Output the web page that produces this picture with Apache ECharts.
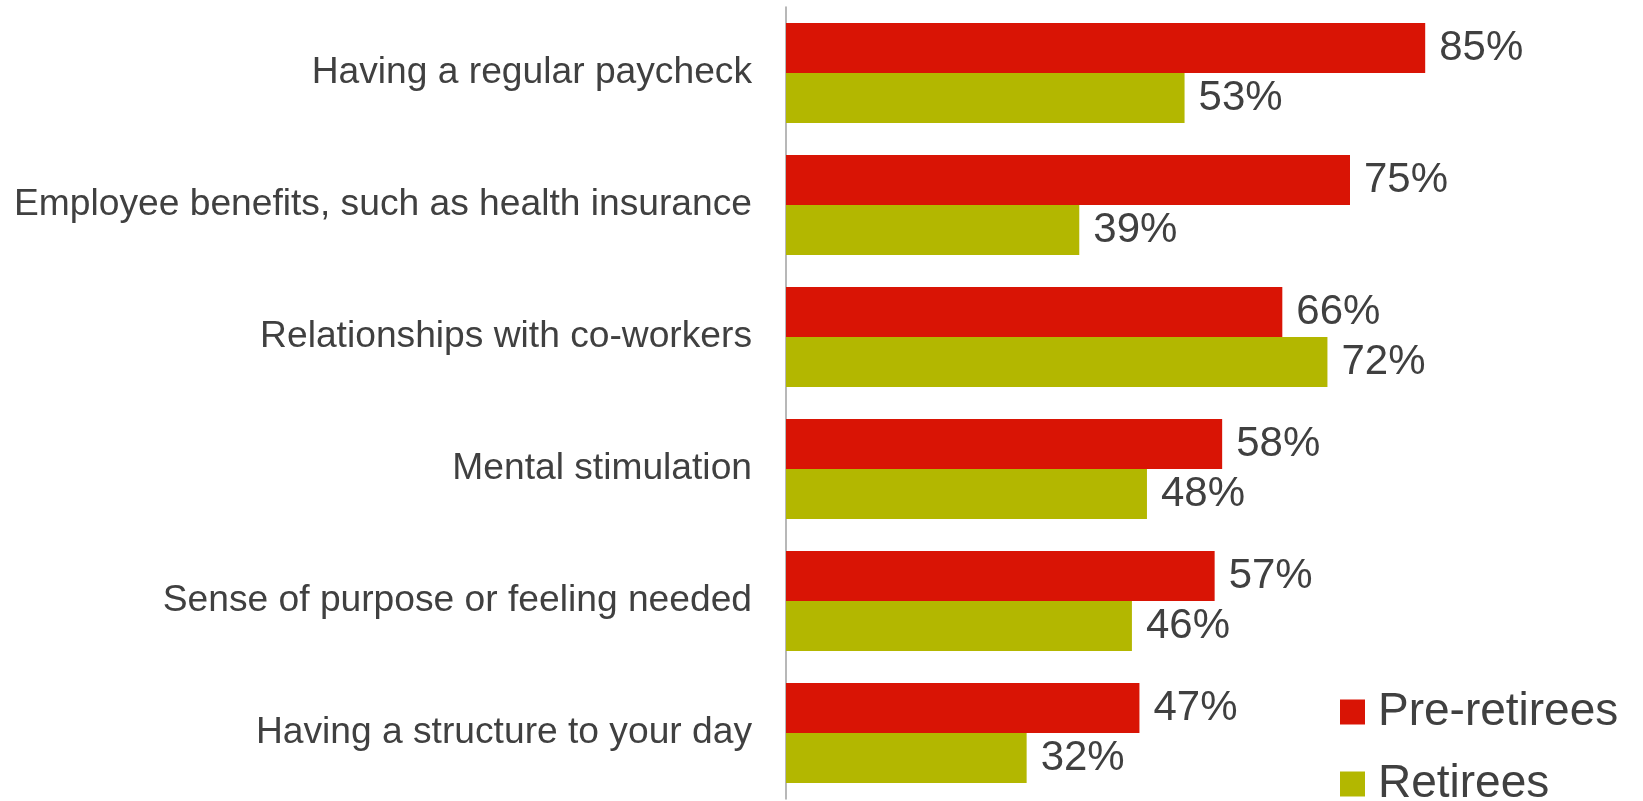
<!DOCTYPE html>
<html>
<head>
<meta charset="utf-8">
<script src="https://cdn.jsdelivr.net/npm/echarts@6/dist/echarts.min.js"></script>
<style>
html,body{margin:0;padding:0;background:#fff;}
#chart{width:1643px;height:801px;}
</style>
</head>
<body>
<div id="chart"></div>
<script>
const categories = [
  "Having a regular paycheck",
  "Employee benefits, such as health insurance",
  "Relationships with co-workers",
  "Mental stimulation",
  "Sense of purpose or feeling needed",
  "Having a structure to your day"
];
const preRetirees = [85, 75, 66, 58, 57, 47];
const retirees = [53, 39, 72, 48, 46, 32];
const seriesNames = ["Pre-retirees", "Retirees"];

const FONT = '"Liberation Sans", Arial, Helvetica, sans-serif';
const TEXT = '#404040';

const chart = echarts.init(document.getElementById('chart'), null, {renderer: 'canvas'});
const labelOpt = {
  show: true,
  position: 'right',
  distance: 14,
  formatter: '{c}%',
  fontSize: 42,
  fontFamily: FONT,
  color: TEXT
};
const legendBase = {
  orient: 'vertical',
  left: 1340,
  padding: 0,
  itemWidth: 25,
  itemHeight: 25,
  icon: 'rect',
  textStyle: {fontSize: 46, fontFamily: FONT, color: TEXT, lineHeight: 34, padding: [0,0,0,8]}
};
chart.setOption({
  animation: false,
  backgroundColor: '#ffffff',
  grid: {left: 786, right: 105, top: 7, bottom: 2, containLabel: false},
  legend: [
    Object.assign({}, legendBase, {top: 689, data: [seriesNames[0]]}),
    Object.assign({}, legendBase, {top: 761, data: [seriesNames[1]]})
  ],
  xAxis: {
    type: 'value',
    min: 0,
    max: 100,
    show: false
  },
  yAxis: {
    type: 'category',
    data: categories,
    inverse: true,
    axisLine: {show: true, lineStyle: {color: '#a0a0a0', width: 1.5}},
    axisTick: {show: false},
    axisLabel: {fontSize: 37.2, fontFamily: FONT, color: TEXT, margin: 34},
    splitLine: {show: false}
  },
  series: [
    {
      name: seriesNames[0],
      type: 'bar',
      data: preRetirees,
      barWidth: 50,
      barGap: '0%',
      itemStyle: {color: '#D91405'},
      label: labelOpt
    },
    {
      name: seriesNames[1],
      type: 'bar',
      data: retirees,
      barWidth: 50,
      barGap: '0%',
      itemStyle: {color: '#B3B700'},
      label: labelOpt
    }
  ]
});
</script>
</body>
</html>
